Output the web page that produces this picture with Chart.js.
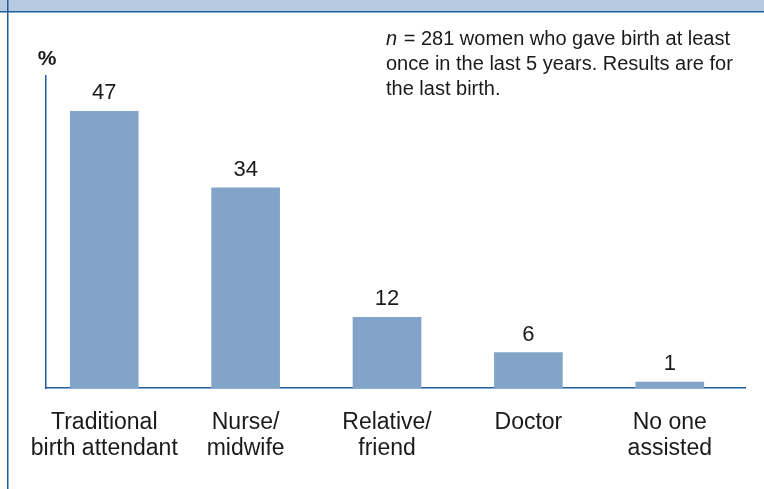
<!DOCTYPE html>
<html>
<head>
<meta charset="utf-8">
<title>Birth assistance</title>
<script src="https://cdn.jsdelivr.net/npm/chart.js@4.4.1/dist/chart.umd.min.js"></script>
<style>
  html, body { margin: 0; padding: 0; background: #ffffff; }
  #wrap { width: 764px; height: 489px; }
</style>
</head>
<body>
<div id="wrap"><canvas id="c" width="764" height="489"></canvas></div>
<script>
// Who assisted at the last birth (% of women)
const categories = [
  ['Traditional', 'birth attendant'],
  ['Nurse/', 'midwife'],
  ['Relative/', 'friend'],
  ['Doctor'],
  ['No one', 'assisted']
];
const shares = [47, 34, 12, 6, 1];
const noteLines = [
  ' = 281 women who gave birth at least',
  'once in the last 5 years. Results are for',
  'the last birth.'
];
const unitLabel = '%';

const FONT = '"Liberation Sans", Arial, sans-serif';
const AXIS_BLUE = '#1f5d9b';
const BAR_BLUE = '#82a4c8';

// Page frame: tinted band across the top and a rule down the left edge
const framePlugin = {
  id: 'frame',
  beforeDraw(chart) {
    const ctx = chart.ctx;
    ctx.save();
    ctx.fillStyle = '#b6cae2';
    ctx.fillRect(0, 0, chart.width, 11);
    ctx.fillStyle = AXIS_BLUE;
    ctx.fillRect(0, 11, chart.width, 1.5);
    ctx.fillRect(7, 0, 1.5, chart.height);
    ctx.restore();
  }
};

// Value above each bar, unit label and the sample note
const labelPlugin = {
  id: 'labels',
  afterDatasetsDraw(chart) {
    const ctx = chart.ctx;
    const area = chart.chartArea;
    ctx.save();
    ctx.fillStyle = '#1a1a1a';
    ctx.textAlign = 'center';
    ctx.textBaseline = 'alphabetic';
    ctx.font = '22px ' + FONT;
    chart.getDatasetMeta(0).data.forEach((bar, i) => {
      ctx.fillText(String(shares[i]), bar.x, bar.y - 12);
    });

    ctx.font = 'bold 21px ' + FONT;
    ctx.fillText(unitLabel, area.left + 1, 65);

    ctx.textAlign = 'left';
    const x0 = 386;
    ctx.font = 'italic 20px ' + FONT;
    ctx.fillText('n', x0, 45);
    const nW = ctx.measureText('n').width;
    ctx.font = '20px ' + FONT;
    ctx.fillText(noteLines[0], x0 + nW + 1, 45);
    ctx.fillText(noteLines[1], x0, 70);
    ctx.fillText(noteLines[2], x0, 95);
    ctx.restore();
  }
};

new Chart(document.getElementById('c'), {
  type: 'bar',
  data: {
    datasets: [{
      data: shares.map((v, i) => ({ x: i, y: v })),
      backgroundColor: BAR_BLUE,
      borderWidth: 0,
      barThickness: 68
    }]
  },
  options: {
    responsive: false,
    animation: false,
    events: [],
    layout: { padding: { top: 76, right: 19, bottom: 0, left: 46 } },
    plugins: {
      legend: { display: false },
      tooltip: { enabled: false },
      title: { display: false }
    },
    scales: {
      x: {
        type: 'linear',
        offset: false,
        min: -0.412,
        max: 4.532,
        grid: { display: false, drawTicks: false },
        border: { display: true, color: AXIS_BLUE, width: 1.5 },
        afterBuildTicks(scale) {
          scale.ticks = categories.map((_, i) => ({ value: i }));
        },
        afterFit(scale) { scale.height = 101; },
        ticks: {
          autoSkip: false,
          maxRotation: 0,
          padding: 22,
          color: '#1a1a1a',
          font: { family: FONT, size: 23, lineHeight: 1.13 },
          callback: (v) => categories[v]
        }
      },
      y: {
        min: 0,
        max: 53,
        grid: { display: false, drawTicks: false },
        border: { display: true, color: AXIS_BLUE, width: 1.5 },
        ticks: { display: false },
        afterFit(scale) { scale.width = 0; }
      }
    }
  },
  plugins: [framePlugin, labelPlugin]
});
</script>
</body>
</html>
